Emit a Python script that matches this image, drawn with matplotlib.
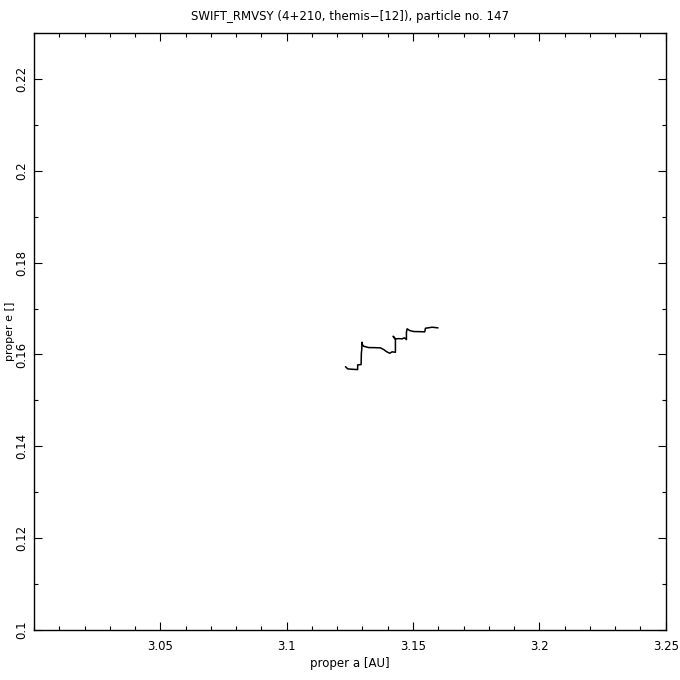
import numpy as np
import matplotlib
matplotlib.use("Agg")
import matplotlib.pyplot as plt
from matplotlib.ticker import MultipleLocator

# track of proper elements
a_vals = [3.12334, 3.12413, 3.12611, 3.12809, 3.12809, 3.12944, 3.12950, 3.12956,
          3.12970, 3.12983, 3.13000, 3.13047, 3.13245, 3.13500, 3.13708, 3.13839,
          3.13946, 3.14077, 3.14172, 3.14303, 3.14303, 3.14212, 3.14303, 3.14450,
          3.14568, 3.14659, 3.14739, 3.14739, 3.14766, 3.14869, 3.15028, 3.15250,
          3.15464, 3.15491, 3.15757, 3.15978]
e_vals = [0.15730, 0.15686, 0.15677, 0.15671, 0.15773, 0.15780, 0.15900, 0.16035,
          0.16100, 0.16266, 0.16210, 0.16179, 0.16150, 0.16148, 0.16144, 0.16107,
          0.16063, 0.16026, 0.16057, 0.16048, 0.16325, 0.16397, 0.16340, 0.16345,
          0.16340, 0.16362, 0.16325, 0.16484, 0.16558, 0.16521, 0.16499, 0.16497,
          0.16493, 0.16571, 0.16593, 0.16580]

x_ticks = [3.05, 3.1, 3.15, 3.2, 3.25]
x_labels = ["3.05", "3.1", "3.15", "3.2", "3.25"]
y_ticks = [0.1, 0.12, 0.14, 0.16, 0.18, 0.2, 0.22]
y_labels = ["0.1", "0.12", "0.14", "0.16", "0.18", "0.2", "0.22"]

fig = plt.figure(figsize=(6.8, 6.8), dpi=100)
ax = fig.add_axes([0.05, 0.0735, 0.929, 0.878])

ax.plot(a_vals, e_vals, color="black", lw=1.1)

ax.set_xlim(3.0, 3.25)
ax.set_ylim(0.1, 0.23)
ax.set_xticks(x_ticks)
ax.set_xticklabels(x_labels)
ax.set_yticks(y_ticks)
ax.set_yticklabels(y_labels, rotation=90, va="center")
ax.xaxis.set_minor_locator(MultipleLocator(0.01))
ax.yaxis.set_minor_locator(MultipleLocator(0.01))
ax.tick_params(which="both", direction="in", top=True, right=True, labelsize=8.5, width=0.8)
ax.tick_params(which="major", length=6)
ax.tick_params(which="minor", length=3)
ax.tick_params(axis="x", pad=7)
ax.tick_params(axis="y", pad=4)
for s in ax.spines.values():
    s.set_linewidth(1.0)

ax.set_xlabel("proper a [AU]", fontsize=8.5, labelpad=3)
# y label placed by hand at the left edge, as in the picture
fig.text(0.014, 0.5135, "proper e []", rotation=90, fontsize=8, ha="center", va="center")
ax.set_title("SWIFT_RMVSY (4+210, themis\u2212[12]), particle no. 147", fontsize=8.5, pad=9)

fig.savefig("out.png", dpi=100)
